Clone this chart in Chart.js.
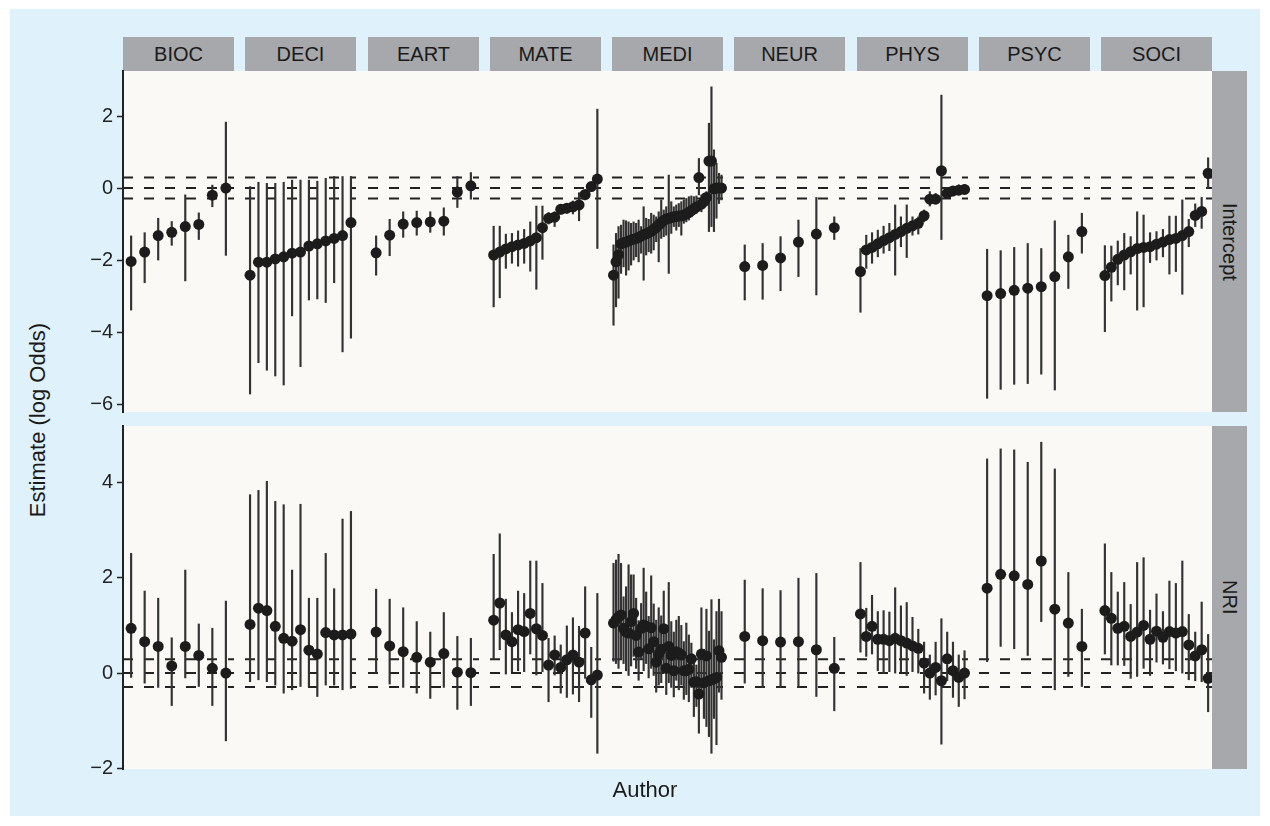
<!DOCTYPE html>
<html>
<head>
<meta charset="utf-8">
<script src="https://cdn.jsdelivr.net/npm/chart.js@4.4.1/dist/chart.umd.min.js"></script>
<style>
  body { margin: 0; background: #fff; font-family: "Liberation Sans", Arial, sans-serif; }
  #page { position: relative; width: 1270px; height: 826px; overflow: hidden; }
  #bg { position: absolute; left: 10px; top: 9px; width: 1250px; height: 807px; background: #dff1fa; }
  .panel { position: absolute; background: #faf9f5; }
  .strip { position: absolute; background: #a6a8ab; color: #1a1a1a; font-size: 20px; text-align: center; }
  .side { writing-mode: vertical-rl; display: flex; align-items: center; justify-content: center; }
  .title { position: absolute; color: #1a1a1a; font-size: 22px; white-space: nowrap; }
  canvas { position: absolute; }
</style>
</head>
<body>
<div id="page"><div id="bg"></div></div>
<script>
// facets (columns) and rows
const facets = ["BIOC", "DECI", "EART", "MATE", "MEDI", "NEUR", "PHYS", "PSYC", "SOCI"];
const rowLabels = ["Intercept", "NRI"];
const interceptTicks = [-6, -4, -2, 0, 2];
const nriTicks = [-2, 0, 2, 4];
const refLines = [-0.29, 0, 0.29];

// Intercept row: estimate, lower, upper (one inner array per facet)
const interceptEst = [
  [-2.04, -1.78, -1.32, -1.23, -1.07, -1.01, -0.20, 0.00],
  [-2.42, -2.06, -2.06, -1.97, -1.91, -1.81, -1.78, -1.61, -1.55, -1.47, -1.40, -1.32, -0.96],
  [-1.80, -1.31, -1.00, -0.96, -0.94, -0.92, -0.11, 0.06],
  [-1.86, -1.78, -1.69, -1.63, -1.58, -1.54, -1.47, -1.38, -1.10, -0.84, -0.81, -0.59, -0.56, -0.52, -0.47, -0.18, 0.04, 0.25],
  [-2.42, -2.05, -1.85, -1.55, -1.52, -1.50, -1.47, -1.44, -1.42, -1.40, -1.37, -1.33, -1.30, -1.27, -1.24, -1.20, -1.15, -1.09, -1.02, -0.96, -0.90, -0.86,
   -0.84, -0.82, -0.80, -0.79, -0.78, -0.77, -0.75, -0.72, -0.68, -0.63, -0.58, -0.53, 0.29, -0.45, -0.38, -0.26, 0.75, 0.75, -0.02, 0.00, 0.00, 0.00],
  [-2.18, -2.15, -1.94, -1.50, -1.28, -1.10],
  [-2.32, -1.72, -1.65, -1.55, -1.46, -1.38, -1.29, -1.21, -1.12, -1.05, -0.98, -0.77, -0.31, -0.31, 0.48, -0.15, -0.08, -0.06, -0.04],
  [-2.99, -2.93, -2.84, -2.78, -2.74, -2.46, -1.91, -1.21],
  [-2.43, -2.20, -1.98, -1.86, -1.77, -1.68, -1.65, -1.63, -1.56, -1.50, -1.43, -1.40, -1.32, -1.21, -0.76, -0.65, 0.41]
];
const interceptLo = [
  [-3.39, -2.63, -2.00, -1.59, -2.58, -1.43, -0.52, -1.87],
  [-5.72, -4.85, -5.06, -5.22, -5.47, -3.55, -4.96, -3.11, -3.08, -3.18, -2.63, -4.55, -4.17],
  [-2.42, -1.88, -1.37, -1.31, -1.23, -1.31, -0.54, -0.31],
  [-3.30, -3.05, -2.23, -2.09, -2.17, -2.09, -2.31, -2.81, -1.98, -1.00, -1.07, -0.72, -0.70, -0.72, -0.91, -0.33, -0.09, -1.68],
  [-3.81, -3.30, -3.06, -2.37, -2.19, -2.42, -2.28, -2.14, -2.00, -1.91, -2.05, -1.81, -2.56, -1.86, -1.77, -1.81, -1.72, -1.49, -2.05, -1.40, -1.35, -1.31,
   -2.37, -1.26, -1.07, -1.17, -1.07, -1.31, -0.98, -0.94, -0.89, -0.80, -0.70, -0.70, -0.19, -0.66, -0.52, -0.43, -1.21, -1.07, -1.21, -0.84, -0.43, -0.33],
  [-3.11, -3.09, -2.85, -2.46, -2.97, -1.43],
  [-3.45, -2.23, -2.09, -1.91, -1.81, -1.74, -2.42, -1.63, -1.93, -1.31, -1.28, -0.94, -0.50, -0.43, -1.43, -0.29, -0.22, -0.19, -0.17],
  [-5.84, -5.59, -5.45, -5.43, -5.17, -5.61, -2.79, -1.81],
  [-3.99, -3.14, -2.69, -2.83, -2.39, -3.39, -3.30, -2.07, -2.00, -1.91, -2.39, -2.32, -2.95, -1.63, -1.07, -1.12, -0.01]
];
const interceptHi = [
  [-1.33, -1.24, -0.84, -0.93, -0.19, -0.69, 0.08, 1.83],
  [0.04, 0.16, 0.13, 0.13, 0.16, 0.22, 0.22, 0.22, 0.19, 0.27, 0.32, 0.32, 0.32],
  [-1.33, -0.87, -0.66, -0.64, -0.66, -0.55, 0.32, 0.43],
  [-1.06, -1.06, -1.28, -1.26, -1.19, -1.15, -0.94, -0.50, -0.50, -0.68, -0.66, -0.47, -0.43, -0.36, -0.13, -0.06, 0.15, 2.19],
  [-1.58, -1.26, -1.07, -1.03, -0.89, -0.91, -0.94, -0.98, -0.94, -0.98, -0.89, -1.07, -0.52, -0.84, -0.87, -0.70, -0.75, -0.80, -0.66, -0.33, -0.61, -0.52,
   0.36, -0.38, -0.52, -0.47, -0.43, -0.38, -0.33, -0.29, -0.24, -0.22, -0.24, -0.22, 0.82, -0.19, -0.15, -0.10, 1.80, 2.81, 1.06, 0.69, 0.41, 0.36],
  [-1.58, -1.54, -1.35, -0.89, -0.26, -0.80],
  [-1.68, -1.31, -1.24, -1.17, -1.06, -0.98, -0.47, -0.80, -0.47, -0.80, -0.80, -0.61, -0.10, -0.15, 2.58, -0.01, 0.04, 0.09, 0.10],
  [-1.70, -1.74, -1.65, -1.54, -1.68, -0.91, -1.31, -0.70],
  [-1.60, -1.61, -1.47, -1.26, -1.35, -0.66, -0.75, -1.24, -1.21, -1.15, -0.78, -0.78, -0.33, -0.87, -0.44, -0.26, 0.84]
];

// NRI row: estimate, lower, upper
const nriEst = [
  [0.94, 0.66, 0.56, 0.15, 0.56, 0.37, 0.10, 0.00],
  [1.02, 1.36, 1.31, 0.98, 0.73, 0.67, 0.91, 0.48, 0.40, 0.85, 0.80, 0.80, 0.82],
  [0.86, 0.57, 0.45, 0.33, 0.23, 0.41, 0.02, 0.01],
  [1.11, 1.47, 0.80, 0.66, 0.91, 0.87, 1.25, 0.93, 0.79, 0.17, 0.38, 0.12, 0.28, 0.38, 0.23, 0.84, -0.14, -0.04],
  [1.05, 1.12, 1.18, 1.22, 0.94, 0.86, 0.84, 1.08, 1.25, 0.79, 0.44, 0.94, 1.01, 0.98, 0.51, 0.95, 0.66, 0.23, 0.40, 0.50, 0.93, 0.10,
   0.56, 0.37, 0.05, 0.45, 0.42, 0.38, 0.05, 0.05, 0.08, 0.30, -0.19, -0.18, -0.44, 0.40, -0.20, 0.36, -0.16, -0.14, -0.12, -0.09, 0.47, 0.33],
  [0.77, 0.68, 0.65, 0.66, 0.49, 0.10],
  [1.24, 0.77, 0.98, 0.71, 0.71, 0.68, 0.73, 0.68, 0.63, 0.57, 0.52, 0.21, 0.00, 0.12, -0.16, 0.30, 0.05, -0.09, 0.00],
  [1.78, 2.07, 2.04, 1.86, 2.35, 1.34, 1.05, 0.56],
  [1.31, 1.15, 0.94, 0.98, 0.77, 0.86, 1.00, 0.71, 0.88, 0.75, 0.87, 0.84, 0.87, 0.59, 0.36, 0.49, -0.11]
];
const nriLo = [
  [-0.09, -0.21, -0.30, -0.68, -0.10, -0.28, -0.68, -1.42],
  [-0.18, -0.14, -0.18, -0.25, -0.42, -0.35, -0.28, -0.28, -0.49, -0.25, -0.25, -0.35, -0.32],
  [0.00, -0.23, -0.30, -0.42, -0.53, -0.30, -0.76, -0.68],
  [0.28, 0.49, -0.02, 0.03, 0.05, 0.03, 0.40, -0.04, 0.03, -0.60, -0.04, -0.42, -0.51, -0.44, -0.60, -0.11, -0.93, -1.68],
  [0.25, 0.20, 0.10, 0.30, 0.20, 0.05, -0.05, 0.15, 0.35, 0.10, -0.15, 0.30, 0.05, 0.20, -0.10, 0.10, -0.05, -0.40, -0.25, -0.20, 0.05, -0.45,
   -0.20, -0.30, -0.50, -0.15, -0.35, -0.25, -0.55, -0.45, -0.60, -0.30, -0.91, -0.70, -1.26, -0.50, -0.95, -1.12, -1.33, -1.68, -0.95, -1.50, -0.40, -0.55],
  [-0.21, -0.30, -0.30, -0.30, -0.49, -0.79],
  [0.44, 0.35, 0.40, 0.05, 0.00, 0.03, 0.00, 0.03, -0.05, 0.03, 0.00, -0.42, -0.55, -0.46, -1.49, -0.16, -0.51, -0.70, -0.54],
  [0.24, 0.56, 0.51, 0.37, 1.08, -0.35, -0.07, -0.28],
  [0.40, 0.17, 0.17, 0.16, -0.11, -0.07, 0.10, -0.05, 0.23, 0.19, 0.09, 0.05, 0.00, -0.14, -0.16, -0.18, -0.81]
];
const nriHi = [
  [2.51, 1.72, 1.57, 0.74, 2.16, 1.03, 0.94, 1.51],
  [3.74, 3.83, 4.02, 3.60, 3.53, 2.16, 3.54, 1.57, 1.57, 2.51, 1.77, 3.23, 3.39],
  [1.76, 1.55, 1.37, 1.08, 0.86, 1.27, 0.77, 0.73],
  [2.49, 2.92, 1.55, 1.27, 1.72, 1.67, 2.35, 2.35, 1.88, 0.73, 0.78, 0.59, 0.99, 1.16, 0.98, 1.81, 0.54, 1.67],
  [2.30, 2.37, 2.49, 2.30, 1.60, 1.81, 2.27, 2.06, 2.06, 1.57, 1.10, 1.46, 2.20, 1.70, 1.19, 2.04, 1.45, 1.11, 1.37, 1.20, 1.72, 0.90,
   1.90, 1.08, 0.86, 1.11, 1.19, 1.00, 0.66, 1.05, 0.80, 0.63, 0.31, 0.17, 0.38, 1.37, 0.50, 1.34, 0.88, 1.54, 0.70, 1.29, 1.55, 1.29],
  [1.95, 1.77, 1.73, 1.99, 2.09, 0.75],
  [2.32, 1.36, 1.63, 1.29, 1.31, 1.28, 1.79, 1.41, 1.48, 1.17, 0.92, 0.65, 0.38, 0.65, 1.14, 0.86, 0.65, 0.38, 0.47],
  [4.49, 4.70, 4.68, 4.42, 4.84, 4.28, 2.11, 1.34],
  [2.71, 2.11, 1.70, 1.90, 1.44, 2.32, 2.42, 1.32, 1.66, 1.29, 1.93, 1.88, 2.35, 1.23, 0.86, 1.49, 0.81]
];

const FONT = "'Liberation Sans', Arial, sans-serif";
const page = document.getElementById("page");
const panelX0 = 123, pitch = 122.25, panelW = 111, axisW = 60, pad = 20, ext = 6;
const rows = [
  { top: 71, height: 341, min: -6.22, max: 3.25, ticks: interceptTicks, est: interceptEst, lo: interceptLo, hi: interceptHi },
  { top: 426, height: 343, min: -2.01, max: 5.18, ticks: nriTicks, est: nriEst, lo: nriLo, hi: nriHi }
];

function el(cls, css, text) {
  const d = document.createElement("div");
  d.className = cls;
  Object.assign(d.style, css);
  if (text) d.textContent = text;
  page.appendChild(d);
  return d;
}
function fmt(v) { return v < 0 ? "\u2212" + Math.abs(v) : String(v); }

// strips on top
facets.forEach((f, i) => {
  const left = Math.round(panelX0 + i * pitch);
  el("strip", { left: left + "px", top: "37px", width: panelW + "px", height: "34px", lineHeight: "34px" }, f);
});

rows.forEach((row, r) => {
  el("panel", { left: panelX0 + "px", top: row.top + "px", width: (1212 - panelX0) + "px", height: row.height + "px" });

  facets.forEach((f, i) => {
    const left = Math.round(panelX0 + i * pitch);
    const first = i === 0;
    const cv = document.createElement("canvas");
    // the first column carries the y axis, so its canvas is wider and has room for the labels;
    // every canvas gets a few spare pixels left/right so edge points are not cut
    cv.width = first ? panelW + axisW + ext : panelW + 2 * ext;
    cv.height = first ? row.height + 2 * pad : row.height;
    cv.style.left = (first ? left - axisW : left - ext) + "px";
    cv.style.top = (first ? row.top - pad : row.top) + "px";
    page.appendChild(cv);

    const est = row.est[i], lo = row.lo[i], hi = row.hi[i];
    const n = est.length;
    const datasets = [
      {
        type: "scatter",
        data: est.map((v, k) => ({ x: k + 1, y: v })),
        pointRadius: 5.5, pointBackgroundColor: "#1c1c1c", pointBorderWidth: 0,
        clip: false, order: 0
      },
      {
        type: "bar",
        data: est.map((v, k) => ({ x: k + 1, y: [lo[k], hi[k]] })),
        backgroundColor: "#333333", barThickness: 1.5, order: 1
      }
    ];
    refLines.forEach(v => datasets.push({
      type: "line",
      data: [{ x: 0.4, y: v }, { x: n + 0.6, y: v }],
      borderColor: "#222", borderWidth: 2, borderDash: [10, 11], pointRadius: 0, order: 2
    }));

    const yScale = {
      type: "linear", display: first, position: "left", min: row.min, max: row.max,
      afterBuildTicks: s => { s.ticks = row.ticks.map(v => ({ value: v })); },
      grid: { drawOnChartArea: false, drawTicks: true, tickLength: 6, tickColor: "#222", tickWidth: 1.5 },
      border: { display: true, color: "#222", width: 2 },
      ticks: { color: "#222", font: { family: FONT, size: 20 }, padding: 4, callback: v => fmt(v) }
    };
    if (first) yScale.afterFit = s => { s.width = axisW; };

    new Chart(cv, {
      type: "scatter",
      data: { datasets: datasets },
      options: {
        responsive: false,
        animation: false,
        events: [],
        layout: {
          autoPadding: false,
          padding: first ? { top: pad, bottom: pad, left: 0, right: ext } : { top: 0, bottom: 0, left: ext, right: ext }
        },
        plugins: { legend: { display: false }, tooltip: { enabled: false } },
        scales: {
          x: { type: "linear", display: false, min: 0.4, max: n + 0.6, offset: false },
          y: yScale
        }
      }
    });
  });

  el("strip side", { left: "1212px", top: row.top + "px", width: "35px", height: row.height + "px" }, rowLabels[r]);
});

// axis titles
el("title", { left: "38px", top: "420px", transform: "translate(-50%, -50%) rotate(-90deg)" }, "Estimate (log Odds)");
el("title", { left: "645px", top: "790px", transform: "translate(-50%, -50%)" }, "Author");
</script>
</body>
</html>
